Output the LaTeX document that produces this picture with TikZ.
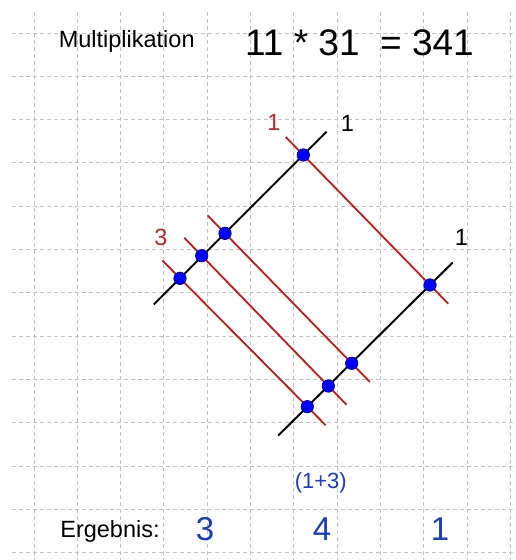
\documentclass[tikz,border=0pt]{standalone}
\usepackage{fontspec}
\setmainfont{Liberation Sans}
\usetikzlibrary{calc}
\definecolor{gridgray}{RGB}{195,195,195}
\definecolor{linered}{RGB}{200,25,25}
\definecolor{labred}{RGB}{190,40,40}
\definecolor{resblue}{RGB}{25,60,195}
\definecolor{dotblue}{RGB}{0,0,255}
\definecolor{dotedge}{RGB}{0,0,120}
\tikzset{
  gridline/.style={draw=gridgray, line width=0.9pt, dash pattern=on 4pt off 3pt},
  blackline/.style={draw=black, line width=2pt},
  redline/.style={draw=linered, line width=1.8pt},
  dot/.style={circle, fill=dotblue, draw=dotedge, line width=0.6pt, minimum size=12.5pt, inner sep=0pt},
  txt/.style={inner sep=0pt, anchor=base},
}
\begin{document}
\begin{tikzpicture}[x=1pt,y=-1pt]
\fill[white] (0,0) rectangle (515,560);
\useasboundingbox (0,0) rectangle (515,560);
% grid
\foreach \k in {0,...,11} \draw[gridline] ({34+43.3*\k},12) -- ({34+43.3*\k},560);
\foreach \k in {0,...,12} \draw[gridline] (12,{33+43.3*\k}) -- (515,{33+43.3*\k});
% intersection points
\coordinate (P1) at (303.3,155);
\coordinate (P2) at (225,233.3);
\coordinate (P3) at (201.7,255.7);
\coordinate (P4) at (180,278.3);
\coordinate (Q1) at (430,285);
\coordinate (Q2) at (351.7,363.3);
\coordinate (Q3) at (328.3,386);
\coordinate (Q4) at (307.3,406.7);
% red lines
\foreach \i in {1,2,3,4}
  \draw[redline] ($(P\i)!-25pt!(Q\i)$) -- ($(Q\i)!-26pt!(P\i)$);
% black lines
\draw[blackline] ($(P4)!-37pt!(P1)$) -- ($(P1)!-33pt!(P4)$);
\draw[blackline] ($(Q4)!-41pt!(Q1)$) -- ($(Q1)!-32pt!(Q4)$);
% dots
\foreach \i in {1,2,3,4} {
  \node[dot] (dp\i) at (P\i) {};
  \node[dot] (dq\i) at (Q\i) {};
}
% labels
\node[txt, font=\fontsize{23.5}{28}\selectfont] (mult) at (126.7,47.3) {Multiplikation};
\node[txt, font=\fontsize{37}{44}\selectfont] (eq) at (359.5,55) {11 * 31\ \ = 341};
\node[txt, text=labred, font=\fontsize{23.5}{28}\selectfont] (r1) at (274,130) {1};
\node[txt, font=\fontsize{23.5}{28}\selectfont] (b1) at (347.5,131.5) {1};
\node[txt, text=labred, font=\fontsize{23.5}{28}\selectfont] (r3) at (161,245.7) {3};
\node[txt, font=\fontsize{23.5}{28}\selectfont] (b2) at (461.5,245) {1};
\node[txt, text=resblue, font=\fontsize{22}{26}\selectfont] (sum) at (320.8,488.3) {(1+3)};
\node[txt, font=\fontsize{23.5}{28}\selectfont] (erg) at (110,537.5) {Ergebnis:};
\node[txt, text=resblue, font=\fontsize{33}{40}\selectfont] (e3) at (205,540) {3};
\node[txt, text=resblue, font=\fontsize{33}{40}\selectfont] (e4) at (322,540) {4};
\node[txt, text=resblue, font=\fontsize{33}{40}\selectfont] (e1) at (440,540) {1};
\end{tikzpicture}
\end{document}
